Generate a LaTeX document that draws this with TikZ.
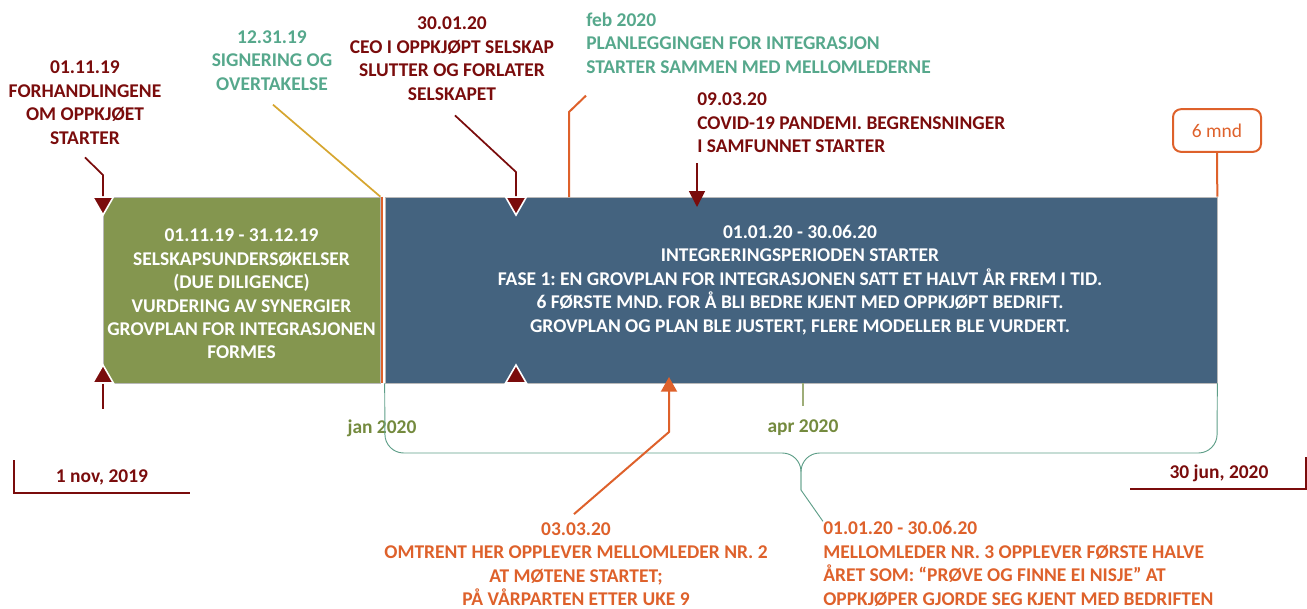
\documentclass[tikz,border=0pt]{standalone}
\usepackage{fontspec}
\setmainfont{Carlito}
\usetikzlibrary{arrows.meta,positioning,shapes.geometric}
\definecolor{DarkRed}{HTML}{7A0C0C}
\definecolor{SoftTeal}{HTML}{56A88C}
\definecolor{BraceTeal}{HTML}{5E9E88}
\definecolor{OliveBox}{HTML}{84964F}
\definecolor{OliveText}{HTML}{748A3E}
\definecolor{SlateBlue}{HTML}{44637F}
\definecolor{Rust}{HTML}{DE612B}
\definecolor{GoldLine}{HTML}{D6A630}
\frenchspacing

\begin{document}
\begin{tikzpicture}[x=0.75pt,y=-0.75pt,
  every node/.style={font=\fontsize{14.6}{17.6}\selectfont\bfseries,align=center,inner sep=0pt},
  phasebox/.style={draw=gray!55,line width=0.5pt,minimum height=139.5pt},
  boxtext/.style={text=white},
  marker/.style={regular polygon,regular polygon sides=3,fill=DarkRed,draw=white,line width=1.2pt,minimum size=18pt},
  redline/.style={DarkRed,line width=1.3pt},
  rustline/.style={Rust,line width=1.5pt},
  brace/.style={BraceTeal,line width=0.7pt},
  corner/.style={DarkRed,line width=0.8pt}]
\useasboundingbox (0,0) rectangle (1307,608);

% the two periods
\node[phasebox,fill=OliveBox,minimum width=207.75pt] (dd) at (241.5,290) {};
\node[phasebox,fill=SlateBlue,minimum width=624pt] (integ) at (801,290) {};
\node[boxtext] (ddtext) at ([shift={(0,4)}]dd.center) {01.11.19 - 31.12.19\\ SELSKAPSUNDERSØKELSER\\ (DUE DILIGENCE)\\ VURDERING AV SYNERGIER\\ GROVPLAN FOR INTEGRASJONEN\\ FORMES};
\node[boxtext] (integtext) at (800,280) {01.01.20 - 30.06.20\\ INTEGRERINGSPERIODEN STARTER\\ FASE 1: EN GROVPLAN FOR INTEGRASJONEN SATT ET HALVT ÅR FREM I TID.\\ 6 FØRSTE MND. FOR Å BLI BEDRE KJENT MED OPPKJØPT BEDRIFT.\\ GROVPLAN OG PLAN BLE JUSTERT, FLERE MODELLER BLE VURDERT.};
\draw[Rust,line width=1.6pt] ([shift={(2,0)}]dd.north east) -- ([shift={(2,0)}]dd.south east);
\draw[white,dashed,line width=0.6pt] ([shift={(-1,0)}]integ.north west) -- ([shift={(-1,0)}]integ.south west);

% events above
\node[text=DarkRed] (forh) at (85,102.5) {01.11.19\\ FORHANDLINGENE\\ OM OPPKJØET\\ STARTER};
\node[text=SoftTeal] (sign) at (272,60.5) {12.31.19\\ SIGNERING OG\\ OVERTAKELSE};
\node[text=DarkRed] (ceo) at (452,58.5) {30.01.20\\ CEO I OPPKJØPT SELSKAP\\ SLUTTER OG FORLATER\\ SELSKAPET};
\node[text=SoftTeal,anchor=west,align=left] (plan) at (586,43) {feb 2020\\ PLANLEGGINGEN FOR INTEGRASJON\\ STARTER SAMMEN MED MELLOMLEDERNE};
\node[text=DarkRed,anchor=west,align=left] (covid) at (697,123) {09.03.20\\ COVID-19 PANDEMI. BEGRENSNINGER\\ I SAMFUNNET STARTER};
\node[draw=Rust,line width=1.5pt,rounded corners=6pt,minimum width=66pt,minimum height=32pt,text=Rust,font=\fontsize{14.6}{17}\selectfont] (mnd) at (1217,130.5) {6 mnd};

\node[marker,shape border rotate=180] (forhtop) at (103,203) {};
\node[marker] (forhbot) at (103,377) {};
\node[marker,shape border rotate=180] (ceotop) at (516,203) {};
\node[marker] (ceobot) at (516,377) {};

\draw[redline] ([shift={(0,13)}]forh.south) -- (forhtop.north |- 0,175) -- (forhtop.north);
\draw[redline] (forhbot.south) -- ++(0,25);
\draw[GoldLine,line width=1.3pt] ([shift={(1,14)}]sign.south) -- (dd.north east);
\draw[redline] ([shift={(3,15)}]ceo.south) -- (ceotop.north |- 0,172) -- (ceotop.north);
\coordinate (planfoot) at (569,197);
\draw[rustline] ([shift={(0,22)}]plan.south west) -- (planfoot |- 0,112) -- (planfoot);
\draw[redline,-{Triangle[width=12pt,length=12pt]}] ([shift={(0,10)}]covid.south west) -- (covid.south west |- 0,207);
\draw[rustline] (mnd.south) -- (integ.north east);

% axis labels
\node[text=OliveText] (jan) at (382,428) {jan 2020};
\node[text=OliveText] (apr) at (803,428) {apr 2020};
\draw[OliveText!70,line width=0.8pt] (apr.north |- integ.south) -- ++(0,23);
\node[text=DarkRed] (nov) at (102,477) {1 nov, 2019};
\node[text=DarkRed] (jun) at (1219,473) {30 jun, 2020};
\draw[corner] (14,460) -- (14,493) -- (190,493);
\draw[corner] (1306,457) -- (1306,489) -- (1130,489);

% brace
\draw[brace,rounded corners=14pt] (integ.south west) -- (385,453) -- (801,453) -- (801,490);
\draw[brace,rounded corners=14pt] (801,490) -- (801,453) -- (1217,453) -- (integ.south east);

% events below
\node[text=Rust] (mell2) at (576,564) {03.03.20\\ OMTRENT HER OPPLEVER MELLOMLEDER NR. 2\\ AT MØTENE STARTET;\\ PÅ VÅRPARTEN ETTER UKE 9};
\node[text=Rust,anchor=west,align=left] (mell3) at (823,564) {01.01.20 - 30.06.20\\ MELLOMLEDER NR. 3 OPPLEVER FØRSTE HALVE\\ ÅRET SOM: “PRØVE OG FINNE EI NISJE” AT\\ OPPKJØPER GJORDE SEG KJENT MED BEDRIFTEN};
\draw[brace] (801,490) -- (mell3.north west);
\coordinate (m2bend) at (669,432);
\coordinate (m2tip) at (669,377);
\draw[rustline,-{Triangle[width=12pt,length=11pt]}] ([shift={(-2,-8)}]mell2.north) -- (m2bend) -- (m2tip);
\end{tikzpicture}
\end{document}
